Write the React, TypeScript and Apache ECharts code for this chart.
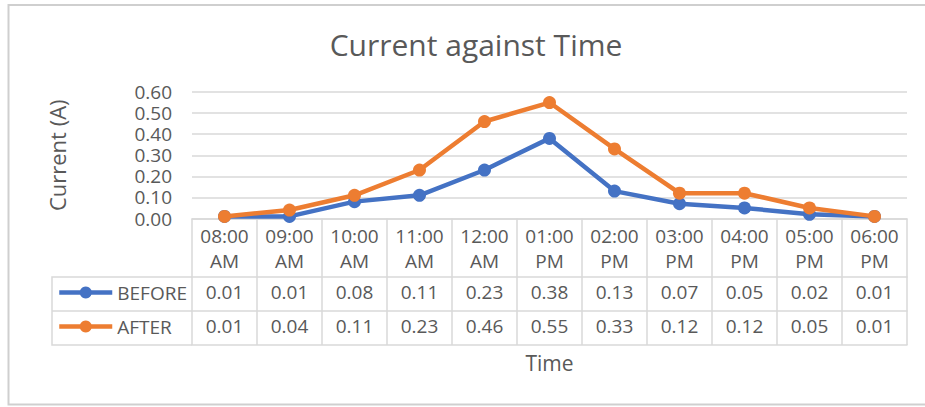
import React, { useEffect, useRef } from "react";
import * as echarts from "echarts";

const categories = [
  "08:00 AM", "09:00 AM", "10:00 AM", "11:00 AM", "12:00 AM", "01:00 PM",
  "02:00 PM", "03:00 PM", "04:00 PM", "05:00 PM", "06:00 PM",
];
const beforeValues = [0.01, 0.01, 0.08, 0.11, 0.23, 0.38, 0.13, 0.07, 0.05, 0.02, 0.01];
const afterValues = [0.01, 0.04, 0.11, 0.23, 0.46, 0.55, 0.33, 0.12, 0.12, 0.05, 0.01];
const yTicks = { min: 0, max: 0.6, interval: 0.1 };

const FONT = "'Open Sans', 'Noto Sans', sans-serif";
const TEXT = "#595959";
const LINE = "#d9d9d9";
const BLUE = "#4472C4";
const ORANGE = "#ED7D31";

export default function App() {
  const ref = useRef<HTMLDivElement>(null);
  useEffect(() => {
    if (!ref.current) return;
    const chart = echarts.init(ref.current, null, { renderer: "svg" });
    const fmt = (v: number) => v.toFixed(2);
    const tableAxis = (data: string[], offset: number, tickLen: number, labels: boolean) => ({
      type: "category",
      data,
      position: "bottom",
      offset,
      boundaryGap: true,
      axisLine: { show: true, lineStyle: { color: LINE, width: 1.5 } },
      axisTick: { show: tickLen > 0, interval: 0, length: tickLen, lineStyle: { color: LINE, width: 1.5 } },
      axisLabel: {
        show: labels,
        interval: 0,
        color: TEXT,
        fontFamily: FONT,
        fontSize: 19,
        lineHeight: 20,
        margin: 5,
      },
      splitLine: { show: false },
    });
    chart.setOption({
      animation: false,
      backgroundColor: "#fff",
      textStyle: { fontFamily: FONT },
      title: {
        text: "Current against Time",
        left: 471,
        top: 24,
        textAlign: "center",
        textStyle: { color: TEXT, fontFamily: FONT, fontSize: 30, fontWeight: "normal" },
      },
      grid: { left: 192, right: 18, top: 92, bottom: 188.5, containLabel: false },
      legend: {
        orient: "vertical",
        left: 57,
        top: 283,
        padding: 0,
        itemWidth: 53,
        itemHeight: 15,
        itemGap: 15,
        lineStyle: { width: 4.5 },
        textStyle: { color: TEXT, fontFamily: FONT, fontSize: 19 },
        data: ["BEFORE", "AFTER"],
      },
      xAxis: [
        {
          type: "category",
          data: categories,
          position: "bottom",
          boundaryGap: true,
          axisLine: { show: true, lineStyle: { color: LINE, width: 1.5 } },
          axisTick: { show: true, interval: 0, length: 58.5, lineStyle: { color: LINE, width: 1.5 } },
          axisLabel: {
            interval: 0,
            color: TEXT,
            fontFamily: FONT,
            fontSize: 19,
            lineHeight: 25,
            margin: 5,
            formatter: (v: string) => v.replace(" ", "\n"),
          },
        },
        tableAxis(beforeValues.map(fmt), 58.5, 34, true),
        tableAxis(afterValues.map(fmt), 92.5, 34, true),
        {
          ...tableAxis(categories, 126.5, 0, false),
          name: "Time",
          nameLocation: "middle",
          nameGap: 7,
          nameTextStyle: { color: TEXT, fontFamily: FONT, fontSize: 21, verticalAlign: "top" },
        },
      ],
      yAxis: {
        type: "value",
        min: yTicks.min,
        max: yTicks.max,
        interval: yTicks.interval,
        axisLine: { show: false },
        axisTick: { show: false },
        axisLabel: { color: TEXT, fontFamily: FONT, fontSize: 19, lineHeight: 19, margin: 20, formatter: fmt },
        splitLine: { lineStyle: { color: LINE, width: 1.5 } },
        name: "Current (A)",
        nameLocation: "middle",
        nameRotate: 90,
        nameGap: 124,
        nameTextStyle: { color: TEXT, fontFamily: FONT, fontSize: 22 },
      },
      series: [
        {
          name: "BEFORE",
          type: "line",
          data: beforeValues,
          xAxisIndex: 0,
          symbol: "circle",
          symbolSize: 13,
          lineStyle: { color: BLUE, width: 4.5 },
          itemStyle: { color: BLUE },
          z: 3,
        },
        {
          name: "AFTER",
          type: "line",
          data: afterValues,
          xAxisIndex: 0,
          symbol: "circle",
          symbolSize: 13,
          lineStyle: { color: ORANGE, width: 4.5 },
          itemStyle: { color: ORANGE },
          z: 4,
        },
      ],
      graphic: [
        {
          type: "rect",
          z: 100,
          shape: { x: 8.5, y: 5, width: 930, height: 399.5 },
          style: { fill: "transparent", stroke: "#cfcfcf", lineWidth: 2 },
          silent: true,
        },
        {
          type: "polyline",
          shape: { points: [[192, 277], [52, 277], [52, 345], [192, 345]] },
          style: { fill: "none", stroke: LINE, lineWidth: 1.5 },
          silent: true,
        },
        {
          type: "line",
          shape: { x1: 52, y1: 311, x2: 192, y2: 311 },
          style: { stroke: LINE, lineWidth: 1.5 },
          silent: true,
        },
      ],
    });
    return () => chart.dispose();
  }, []);
  return (
    <div
      ref={ref}
      style={{ position: "absolute", left: 0, top: 0, width: 925, height: 407 }}
    />
  );
}
